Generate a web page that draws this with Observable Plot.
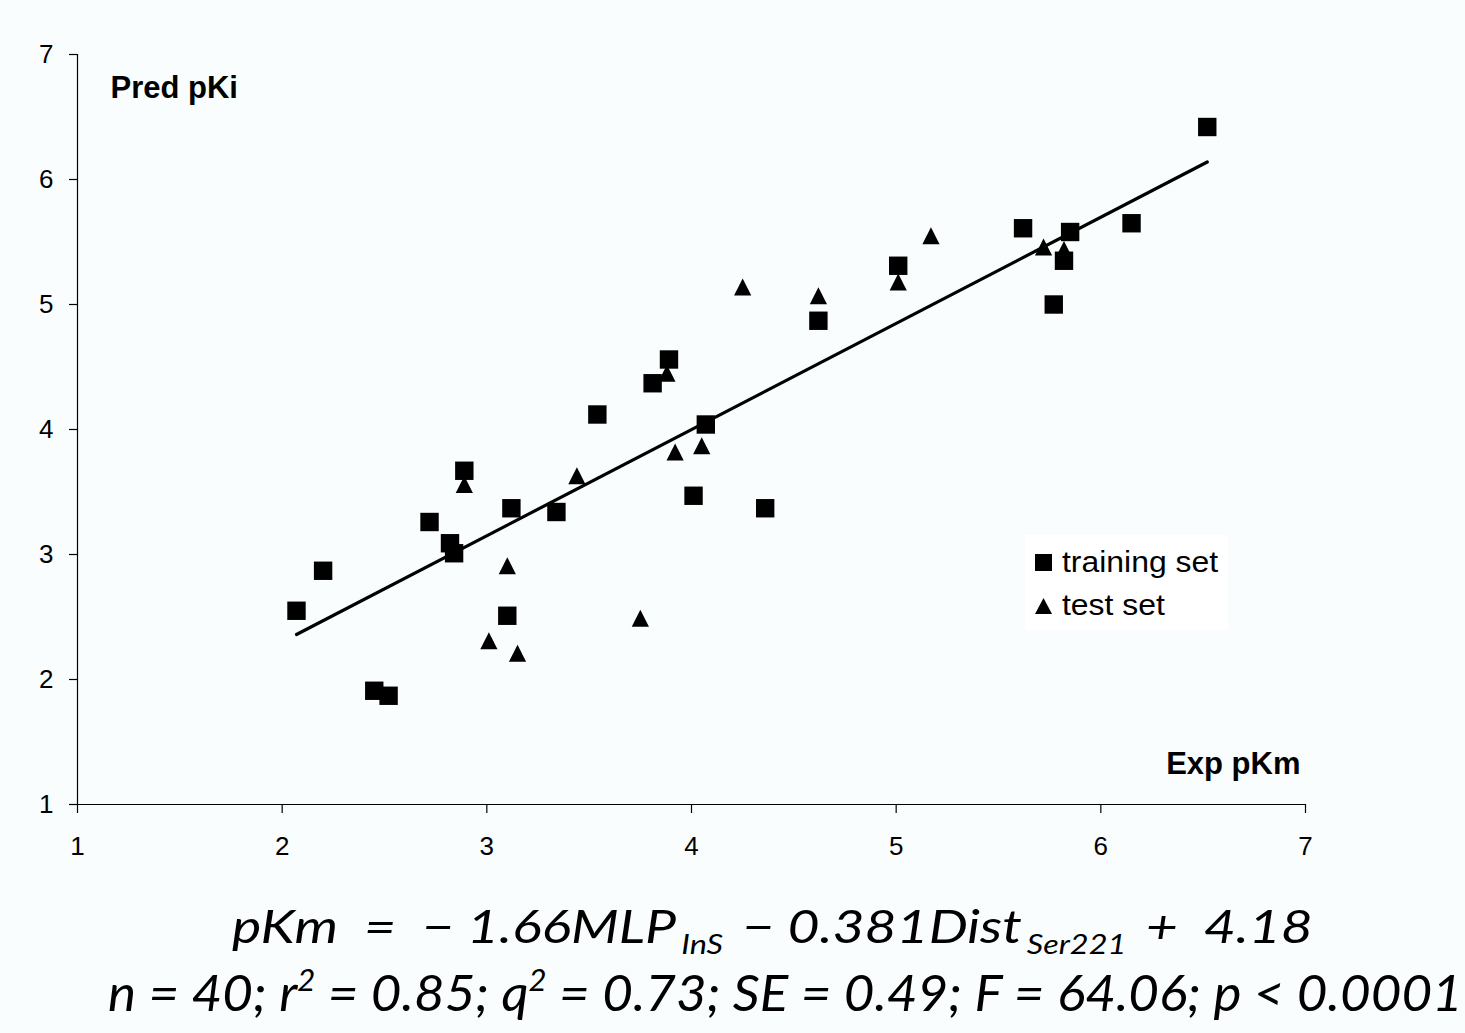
<!DOCTYPE html>
<html>
<head>
<meta charset="utf-8">
<script src="https://cdn.jsdelivr.net/npm/d3@7"></script>
<script src="https://cdn.jsdelivr.net/npm/@observablehq/plot@0.6"></script>
<style>
  html, body { margin: 0; padding: 0; background: #f9fdfd; }
  #wrap { position: relative; width: 1465px; height: 1033px; overflow: hidden; background: #f9fdfd; }
  #chart { position: absolute; left: 0; top: 0; }
  #chart svg g[aria-label$="tick label"] { font-size: 26px; }
  #legend { position: absolute; left: 1025px; top: 535px; width: 203px; height: 95px; background: #ffffff;
            font-family: "Liberation Sans", Arial, sans-serif; font-size: 29px; color: #000; }
  #legend .sym { position: absolute; left: 10px; background: #000; }
  #legend .lbl { position: absolute; left: 37px; line-height: 1; white-space: nowrap;
                 transform: scaleX(1.1); transform-origin: 0 0; }
  #eq { position: absolute; left: 0; top: 880px; }
</style>
</head>
<body>
<div id="wrap">
  <div id="chart"></div>
  <div id="legend"></div>
  <div id="eq"></div>
</div>
<script>
// ---- data ----
const trainX = [2.07, 2.20, 2.45, 2.52, 2.72, 2.82, 2.84, 2.89, 3.10, 3.12, 3.34, 3.54, 3.81, 3.89, 4.01, 4.07, 4.36, 4.62, 5.01, 5.62, 5.77, 5.82, 5.85, 6.15, 6.52];
const trainY = [2.55, 2.87, 1.91, 1.87, 3.26, 3.09, 3.01, 3.67, 2.51, 3.37, 3.34, 4.12, 4.37, 4.56, 3.47, 4.04, 3.37, 4.87, 5.31, 5.61, 5.00, 5.35, 5.58, 5.65, 6.42];
const testX = [2.89, 3.01, 3.10, 3.15, 3.44, 3.75, 3.88, 3.92, 4.05, 4.25, 4.62, 5.01, 5.17, 5.72, 5.82];
const testY = [3.56, 2.31, 2.91, 2.21, 3.63, 2.49, 4.45, 3.82, 3.87, 5.14, 5.07, 5.18, 5.55, 5.46, 5.44];
const fitX = [2.07, 6.52];
const fitY = [2.36, 6.14];
const xTicks = [1, 2, 3, 4, 5, 6, 7];
const yTicks = [1, 2, 3, 4, 5, 6, 7];
const xTitle = "Exp pKm";
const yTitle = "Pred pKi";
const seriesNames = ["training set", "test set"];
// equation text pieces (sub = subscript)
const eqPieces = ["pKm\u00A0\u00A0=\u00A0\u00A0\u2212\u00A01.66MLP", "InS", "\u2212\u00A00.381Dist", "Ser221", "+\u00A0\u00A04.18"];
const eqSub = [false, true, false, true, false];
// statistics line pieces (sup = superscript)
const statPieces = ["n = 40; r", "2", " = 0.85; q", "2", " = 0.73; SE = 0.49; F = 64.06; p < 0.0001"];
const statSup = [false, true, false, true, false];

// ---- tables ----
const train = trainX.map((x, i) => ({x, y: trainY[i]}));
const test = testX.map((x, i) => ({x, y: testY[i]}));
const fit = fitX.map((x, i) => ({x, y: fitY[i]}));

// custom symbols
const squareSym = {draw(ctx, size) { const r = Math.sqrt(size / Math.PI); ctx.rect(-r, -r, 2 * r, 2 * r); }};
const triSym = {draw(ctx, size) { const r = Math.sqrt(size / Math.PI); ctx.moveTo(0, -r); ctx.lineTo(r, r); ctx.lineTo(-r, r); ctx.closePath(); }};

const chart = Plot.plot({
  width: 1465,
  height: 880,
  marginLeft: 77,
  marginRight: 160,
  marginTop: 54,
  marginBottom: 76,
  x: {domain: [1, 7]},
  y: {domain: [1, 7]},
  style: {background: "transparent", fontFamily: "'Liberation Sans', Arial, sans-serif", fontSize: "26px", color: "#000"},
  marks: [
    Plot.ruleX([1], {stroke: "#000", strokeWidth: 1.2}),
    Plot.ruleY([1], {stroke: "#000", strokeWidth: 1.2}),
    Plot.axisX({ticks: xTicks, tickSize: 9, tickPadding: 23, label: null, fontSize: 26, strokeWidth: 1.2, tickFormat: d => String(d)}),
    Plot.axisY({ticks: yTicks, tickSize: 8, tickPadding: 16, label: null, fontSize: 26, strokeWidth: 1.2, tickFormat: d => String(d)}),
    Plot.line(fit, {x: "x", y: "y", stroke: "#000", strokeWidth: 3.2, strokeLinecap: "round"}),
    Plot.dot(test, {x: "x", y: "y", symbol: triSym, r: 8.6, fill: "#000", stroke: "none"}),
    Plot.dot(train, {x: "x", y: "y", symbol: squareSym, r: 9.2, fill: "#000", stroke: "none"}),
    Plot.text([yTitle], {text: d => d, frameAnchor: "top-left", textAnchor: "start", lineAnchor: "bottom", dx: 33, dy: 43, fontWeight: "bold", fontSize: 31}),
    Plot.text([xTitle], {text: d => d, frameAnchor: "bottom-right", textAnchor: "end", lineAnchor: "bottom", dx: -5, dy: -31, fontWeight: "bold", fontSize: 31})
  ]
});
document.getElementById("chart").appendChild(chart);

// ---- legend ----
const legend = document.getElementById("legend");
const s1 = document.createElement("div");
s1.className = "sym"; s1.style.top = "19px"; s1.style.width = "17px"; s1.style.height = "17px";
legend.appendChild(s1);
const l1 = document.createElement("div");
l1.className = "lbl"; l1.style.top = "12.5px"; l1.textContent = seriesNames[0];
legend.appendChild(l1);
const s2 = document.createElement("div");
s2.className = "sym"; s2.style.top = "63px"; s2.style.width = "17px"; s2.style.height = "16px";
s2.style.clipPath = "polygon(50% 0, 100% 100%, 0 100%)";
legend.appendChild(s2);
const l2 = document.createElement("div");
l2.className = "lbl"; l2.style.top = "55.5px"; l2.textContent = seriesNames[1];
legend.appendChild(l2);

// ---- equation lines ----
const eqSvg = d3.create("svg").attr("width", 1465).attr("height", 153)
  .style("font-family", "Lato, 'Open Sans', sans-serif").style("font-style", "italic");
document.getElementById("eq").appendChild(eqSvg.node());

function fitText(sel, x0, x1) {
  const bb = sel.node().getBBox();
  const k = (x1 - x0) / bb.width;
  sel.attr("transform", `translate(${x0},0) scale(${k},1) translate(${-bb.x},0)`);
}

// first line: each piece is its own text element, laid out one after another
const g1 = eqSvg.append("g");
let cx = 0;
eqPieces.forEach((p, i) => {
  const sub = eqSub[i];
  const t = g1.append("text")
    .attr("x", cx)
    .attr("y", sub ? 74 : 63)
    .attr("font-size", sub ? 27 : 46)
    .attr("fill", "#000")
    .text(p);
  cx += t.node().getComputedTextLength() + (sub ? 16 : 4);
});
fitText(g1, 232, 1313);

const t2 = eqSvg.append("text").attr("x", 0).attr("y", 131).attr("font-size", 51).attr("fill", "#000");
statPieces.forEach((p, i) => {
  const ts = t2.append("tspan").text(p);
  if (statSup[i]) ts.attr("font-size", 30).attr("dy", -20);
  else if (i > 0 && statSup[i - 1]) ts.attr("dy", 20);
});
fitText(t2, 108, 1463);
</script>
</body>
</html>
